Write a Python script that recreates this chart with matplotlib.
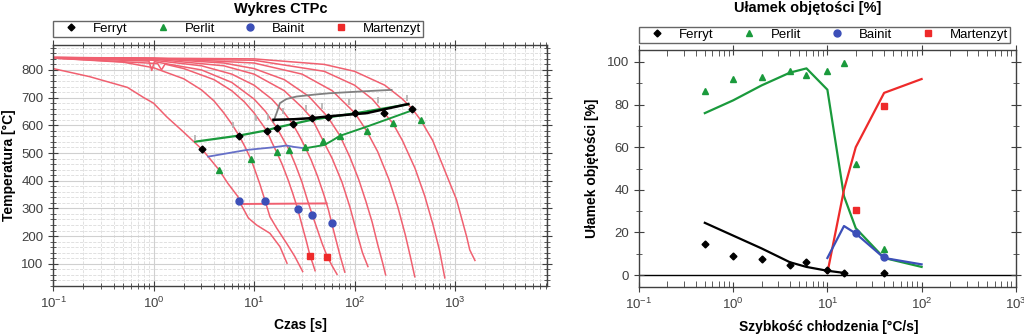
import matplotlib
matplotlib.use("Agg")
import matplotlib.pyplot as plt
from matplotlib.lines import Line2D
from matplotlib.ticker import LogLocator, MultipleLocator, NullFormatter

plt.rcParams["font.family"] = ["Liberation Sans", "DejaVu Sans"]

# ---- CTPc diagram: cooling curves (time [s], temperature [C]) ----
curves = [
    ([0.1, 0.23, 0.55, 0.8, 1.0, 1.35, 2.0, 2.9, 3.02, 4.49, 5.5, 6.9, 7.1, 8.8, 10.6, 14.4, 18.1, 21.3],
     [805, 776, 737, 700, 680, 631, 575, 520, 515, 439, 390, 343, 327, 265, 240, 210, 162, 102]),
    ([0.1, 0.5, 1, 2, 3, 4, 5, 6, 7.09, 8.2, 9.27, 10.2, 11.5, 12.9, 14.4, 16.8, 21.1, 25.5, 30.5],
     [843, 828, 808, 768, 728, 688, 645, 605, 563, 520, 479, 439, 385, 327, 270, 229, 174, 126, 72]),
    ([0.1, 1.1, 1.2, 1.3, 2, 4, 6, 8, 10, 12, 13.4, 15, 16.8, 19, 22, 24.5, 27.2, 30, 33, 36.1, 38.5, 40.5],
     [843, 823, 800, 821, 805, 765, 725, 685, 645, 605, 580, 540, 503, 460, 400, 350, 298, 240, 185, 129, 100, 75]),
    ([0.1, 0.9, 0.96, 1.02, 3, 6, 10, 13, 16.8, 19.5, 22.4, 26, 30, 34, 38, 43.5, 48, 53.6, 60, 67],
     [843, 832, 798, 830, 800, 755, 695, 650, 592, 550, 511, 455, 395, 330, 277, 215, 170, 126, 92, 62]),
    ([0.1, 1, 3, 6, 10, 15, 20, 24.3, 28, 32.1, 37, 43, 50, 55, 59.3, 65, 72, 80],
     [844, 835, 815, 785, 745, 695, 645, 604, 565, 523, 475, 415, 345, 295, 247, 190, 128, 70]),
    ([0.1, 1, 5, 10, 20, 30, 37.5, 48.2, 60, 75, 90, 105, 120, 136],
     [844, 839, 815, 785, 725, 665, 626, 548, 480, 395, 305, 215, 140, 90]),
    ([0.1, 1, 5, 10, 20, 35, 54, 71.8, 90, 110, 130, 150, 170, 190, 204],
     [845, 841, 825, 805, 765, 705, 631, 562, 485, 405, 325, 250, 170, 105, 60]),
    ([0.1, 1, 10, 30, 60, 101, 132, 170, 220, 270, 320, 360, 398],
     [845, 843, 825, 785, 725, 644, 580, 505, 405, 305, 205, 125, 53]),
    ([0.1, 10, 50, 100, 150, 196, 240, 300, 400, 500, 600, 700, 792],
     [845, 835, 795, 745, 695, 646, 608, 545, 445, 345, 245, 150, 49]),
    ([0.1, 10, 50, 100, 200, 300, 376, 456, 600, 826, 1037, 1306, 1403, 1580],
     [845, 840, 820, 795, 745, 695, 659, 619, 545, 420, 331, 198, 150, 112]),
]

ferryt_t = [3.02, 7.09, 13.4, 16.8, 24.3, 37.5, 54, 101, 196, 376]
ferryt_T = [515, 563, 580, 592, 604, 626, 631, 644, 646, 659]
perlit_t = [4.49, 9.27, 16.8, 22.4, 32.1, 48.2, 71.8, 132, 240, 456]
perlit_T = [439, 479, 503, 511, 523, 545, 562, 580, 608, 619]
bainit_t = [7.15, 12.9, 27.2, 38.0, 59.3]
bainit_T = [327, 327, 298, 277, 247]
marten_t = [36.1, 53.6]
marten_T = [129, 126]
start_t = [2.59, 6.2, 10.5, 13.9, 19.5, 33, 48, 88, 170, 330]
start_T = [553, 601, 625, 631, 650, 662, 670, 683, 690, 700]

gray_t = [15.6, 17, 18.1, 21, 26.5, 40, 57, 100, 160, 234]
gray_T = [613, 650, 680, 695, 704, 711, 716, 721, 725, 728]
black_t = [15.6, 25, 37.5, 61.5, 132, 343]
black_T = [620, 622, 626, 634, 644, 677]
green1_t = [2.6, 7.1, 13.4, 16.8, 37.5, 100, 343]
green1_T = [541, 563, 582, 592, 620, 643, 676]
blue_t = [3.5, 8.4, 15, 21.1, 25, 32.1]
blue_T = [487, 511, 520, 527, 522, 517]
green2_t = [32.1, 50, 60, 71.5, 132, 388]
green2_T = [517, 529, 545, 562, 595, 656]
ms_t = [7.8, 52.8]
ms_T = [316, 318]

# ---- volume fraction vs cooling rate ----
f_rate = [0.5, 1, 2, 4, 6, 10, 15, 40]
f_pts = [14.5, 8.8, 7.5, 4.8, 6.2, 2.4, 1.0, 1.0]
f_line_rate = [0.5, 1, 2, 4, 6, 10, 15]
f_line = [24.5, 18.5, 12.5, 6.0, 3.8, 2.0, 1.0]
p_rate = [0.5, 1, 2, 4, 6, 10, 15, 20, 40]
p_pts = [86.5, 92, 93, 96, 94, 96, 99.5, 52, 12]
p_line_rate = [0.5, 1, 2, 4, 6, 10, 15, 20, 40, 100]
p_line = [76, 82, 89, 95, 97, 87, 37, 22, 8, 3.8]
b_rate = [20, 40]
b_pts = [19.5, 8.5]
b_line_rate = [10, 15, 20, 40, 100]
b_line = [8, 23, 19.5, 8, 5]
m_rate = [20, 40]
m_pts = [30.5, 79.5]
m_line_rate = [10, 15, 20, 40, 100]
m_line = [1, 40, 60, 85.5, 92]

labels = ["Ferryt", "Perlit", "Bainit", "Martenzyt"]
c_black, c_green, c_blue, c_red = "black", "#1a9a3c", "#3c4fb8", "#ee2a2a"
c_curve = "#f06070"

fig = plt.figure(figsize=(10.24, 3.36), dpi=100)
ax1 = fig.add_axes([0.0518, 0.149, 0.4822, 0.717])
ax2 = fig.add_axes([0.624, 0.146, 0.368, 0.705])

# left panel
for t, T in curves:
    ax1.plot(t, T, color=c_curve, lw=1.1, zorder=2)
ax1.plot(gray_t, gray_T, color="#808080", lw=1.3, zorder=3)
ax1.plot(green1_t, green1_T, color=c_green, lw=1.6, zorder=3)
ax1.plot(black_t, black_T, color="black", lw=1.8, zorder=4)
ax1.plot(blue_t, blue_T, color="#6670c8", lw=1.3, zorder=3)
ax1.plot(green2_t, green2_T, color=c_green, lw=1.4, zorder=3)
ax1.plot(ms_t, ms_T, color=c_curve, lw=1.4, zorder=3)
ax1.plot(start_t, start_T, ls="none", marker="|", ms=5, mew=1.2, color="#b0b0b0", zorder=4)
ax1.plot(ferryt_t, ferryt_T, ls="none", marker="D", ms=3.5, color=c_black, zorder=5)
ax1.plot(perlit_t, perlit_T, ls="none", marker="^", ms=5, color=c_green, zorder=5)
ax1.plot(bainit_t, bainit_T, ls="none", marker="o", ms=5, color=c_blue, zorder=5)
ax1.plot(marten_t, marten_T, ls="none", marker="s", ms=5, color=c_red, zorder=5)

ax1.set_xscale("log")
ax1.set_xlim(0.1, 8200)
ax1.set_ylim(20, 890)
ax1.yaxis.set_major_locator(MultipleLocator(100))
ax1.yaxis.set_minor_locator(MultipleLocator(20))
ax1.xaxis.set_major_locator(LogLocator(base=10, numticks=10))
ax1.xaxis.set_minor_locator(LogLocator(base=10, subs=range(2, 10), numticks=20))
ax1.xaxis.set_minor_formatter(NullFormatter())
ax1.set_yticks([100, 200, 300, 400, 500, 600, 700, 800])
ax1.grid(which="major", color="#d0d0d0", lw=0.8)
ax1.grid(which="minor", color="#dcdcdc", lw=0.6, ls="--")
ax1.set_axisbelow(True)
ax1.tick_params(which="both", direction="inout", top=True, right=True, labelsize=9.5, colors="#404040")
ax1.tick_params(which="major", length=7)
ax1.tick_params(which="minor", length=4)
ax1.set_ylabel("Temperatura [°C]", fontsize=10, fontweight="bold", labelpad=4)

# right panel
ax2.axhline(0, color="black", lw=1.0, zorder=1)
ax2.plot(f_line_rate, f_line, color=c_black, lw=1.6)
ax2.plot(p_line_rate, p_line, color=c_green, lw=1.6)
ax2.plot(m_line_rate, m_line, color=c_red, lw=1.6)
ax2.plot(b_line_rate, b_line, color=c_blue, lw=1.6)
ax2.plot(f_rate, f_pts, ls="none", marker="D", ms=3.5, color=c_black)
ax2.plot(p_rate, p_pts, ls="none", marker="^", ms=5, color=c_green)
ax2.plot(b_rate, b_pts, ls="none", marker="o", ms=5, color=c_blue)
ax2.plot(m_rate, m_pts, ls="none", marker="s", ms=5, color=c_red)

ax2.set_xscale("log")
ax2.set_xlim(0.1, 1000)
ax2.set_ylim(-5.6, 105.6)
ax2.yaxis.set_major_locator(MultipleLocator(20))
ax2.yaxis.set_minor_locator(MultipleLocator(10))
ax2.set_yticks([0, 20, 40, 60, 80, 100])
ax2.xaxis.set_major_locator(LogLocator(base=10, numticks=10))
ax2.xaxis.set_minor_locator(LogLocator(base=10, subs=range(2, 10), numticks=20))
ax2.xaxis.set_minor_formatter(NullFormatter())
ax2.tick_params(which="both", direction="in", top=True, right=True, labelsize=9.5, colors="#404040")
ax2.tick_params(axis="y", which="both", direction="inout")
ax2.tick_params(axis="x", which="major", direction="inout")
ax2.tick_params(which="major", length=7)
ax2.tick_params(which="minor", length=4)
ax2.set_ylabel("Ułamek objętości [%]", fontsize=10, fontweight="bold", labelpad=6)

for ax in (ax1, ax2):
    for s in ax.spines.values():
        s.set_color("#404040")
        s.set_linewidth(1.0)

# titles and x labels placed in figure coordinates
fig.text(0.274, 0.972, "Wykres CTPc", ha="center", va="center", fontsize=10.5, fontweight="bold")
fig.text(0.789, 0.975, "Ułamek objętości [%]", ha="center", va="center", fontsize=10.5, fontweight="bold")
fig.text(0.293, 0.033, "Czas [s]", ha="center", va="center", fontsize=10, fontweight="bold")
fig.text(0.809, 0.028, "Szybkość chłodzenia [°C/s]", ha="center", va="center", fontsize=10, fontweight="bold")

handles = [
    Line2D([], [], ls="none", marker="D", ms=3.5, color=c_black),
    Line2D([], [], ls="none", marker="^", ms=5, color=c_green),
    Line2D([], [], ls="none", marker="o", ms=5, color=c_blue),
    Line2D([], [], ls="none", marker="s", ms=5, color=c_red),
]
for (x0, y0, w, h) in [(0.0518, 0.890, 0.361, 0.042), (0.624, 0.872, 0.362, 0.057)]:
    leg = fig.legend(handles, labels, ncol=4, loc="lower left", bbox_to_anchor=(x0, y0, w, h),
                     mode="expand", frameon=True, fancybox=False, fontsize=9.5, borderpad=0.15,
                     handletextpad=0.45, handlelength=2.4, borderaxespad=0)
    leg.get_frame().set_edgecolor("#404040")
    leg.get_frame().set_linewidth(1.0)

fig.savefig("out.png", dpi=100)
